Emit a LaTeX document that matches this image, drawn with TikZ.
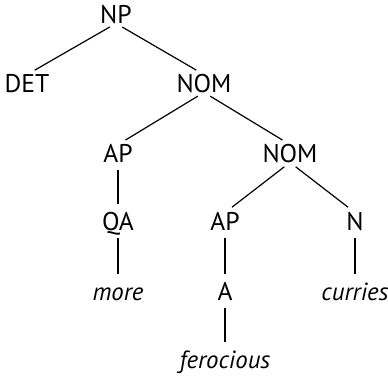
\documentclass[tikz,border=0pt]{standalone}
\usepackage{fontspec}
\setmainfont{PT Sans}

\begin{document}
\begin{tikzpicture}[x=0.5pt, y=-0.5pt,
    cat/.style={anchor=base, inner sep=0pt, text height=8.5pt, text depth=0pt, font=\fontsize{12.8}{15}\selectfont},
    word/.style={cat, font=\fontsize{12.4}{15}\selectfont\itshape},
    branch/.style={line width=0.6pt, shorten <=3.6pt, shorten >=4.4pt}]
    \useasboundingbox (0, 0) rectangle (388, 377);

    \node (np) [cat] at (116, 23) {NP};
    \node (det) [cat] at (27, 92) {DET};
    \node (nom1) [cat] at (204, 92) {NOM};
    \node (ap1) [cat] at (118, 162) {AP};
    \node (nom2) [cat] at (290, 162) {NOM};
    \node (qa) [cat] at (118, 230) {QA};
    \node (ap2) [cat] at (225, 230) {AP};
    \node (n) [cat] at (355, 230) {N};
    \node (more) [word] at (118, 300) {more};
    \node (a) [cat] at (225, 300) {A};
    \node (curries) [word] at (355, 300) {curries};
    \node (ferocious) [word] at (225, 368) {ferocious};

    \path[branch]
    (np.south) edge (det.north)
    (np.south) edge (nom1.north)
    (nom1.south) edge (ap1.north)
    (nom1.south) edge (nom2.north)
    (ap1.south) edge (qa.north)
    (nom2.south) edge (ap2.north)
    (nom2.south) edge (n.north)
    (qa.south) edge (more.north)
    (ap2.south) edge (a.north)
    (n.south) edge (curries.north)
    (a.south) edge (ferocious.north);
\end{tikzpicture}
\end{document}
